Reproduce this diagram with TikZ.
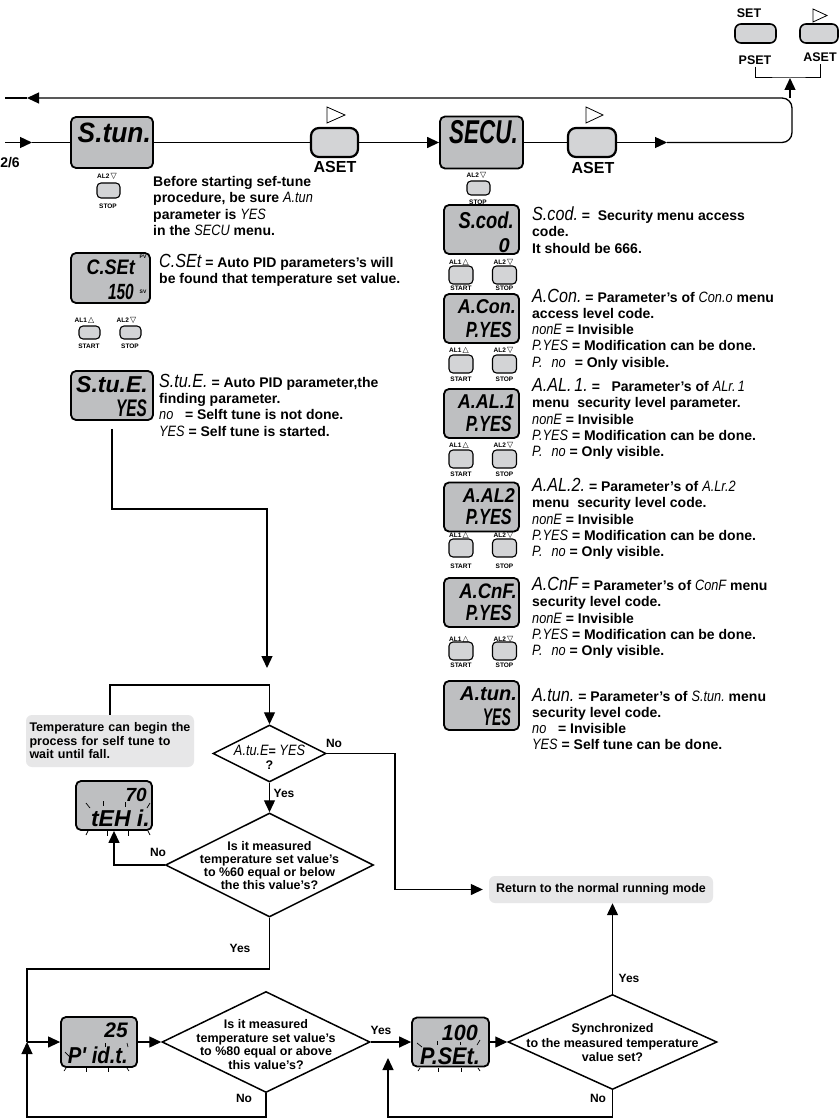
\documentclass[tikz,border=0pt]{standalone}
\usepackage{fontspec}
\usepackage{graphicx}
\setmainfont{Liberation Sans}
\newfontfamily\segfont{Liberation Sans}
\newfontfamily\symfont{DejaVu Sans}
\usetikzlibrary{arrows.meta,shapes.geometric,calc}
\definecolor{lcdgray}{RGB}{190,191,193}
\definecolor{btngray}{RGB}{211,212,214}
\definecolor{notegray}{RGB}{231,231,232}
\newcommand{\dsp}[3]{{\segfont\bfseries\itshape\fontsize{#1}{#1}\selectfont\scalebox{#2}[1]{#3}}}
\newcommand{\sh}[1]{{\segfont\mdseries\itshape\fontsize{19}{16}\selectfont\scalebox{0.85}[1]{#1}}}
\newcommand{\si}[1]{{\segfont\mdseries\itshape\fontsize{15}{16}\selectfont\scalebox{0.85}[1]{#1}}}
\newcommand{\mytriup}{{\symfont\mdseries\fontsize{8}{8}\selectfont\,△}}
\newcommand{\mytridn}{{\symfont\mdseries\fontsize{8}{8}\selectfont\,▽}}
\tikzset{
 conn/.style={line width=1.3pt},
 arr/.style={-{Triangle[length=12pt,width=11pt]}},
 lcd/.style={draw=black, line width=1.8pt, fill=lcdgray, rounded corners=5pt, inner sep=0pt, minimum width=75pt, minimum height=49pt},
 dt/.style={inner sep=0pt, anchor=base east},
 sbtn/.style={draw=black, line width=1.1pt, fill=btngray, rounded corners=4pt, inner sep=0pt, minimum width=23pt, minimum height=15pt},
 rbtn/.style={sbtn, minimum width=24pt, minimum height=18pt},
 cbtn/.style={sbtn, minimum width=21pt, minimum height=13pt},
 bigbtn/.style={draw=black, line width=2.2pt, fill=btngray, rounded corners=8pt, inner sep=0pt, minimum width=47pt, minimum height=29pt},
 topbtn/.style={draw=black, line width=1.6pt, fill=btngray, rounded corners=6pt, inner sep=0pt, minimum height=19pt},
 tinylbl/.style={inner sep=0pt, font=\bfseries\fontsize{6.5}{7}\selectfont},
 pvlbl/.style={inner sep=0pt, font=\bfseries\fontsize{5}{5}\selectfont},
 desc/.style={inner sep=0pt, anchor=west, align=left, font=\bfseries\fontsize{14}{16.3}\selectfont},
 ftxt/.style={inner sep=0pt, align=center, font=\bfseries\fontsize{12.5}{13.6}\selectfont},
 lbl/.style={inner sep=0pt, font=\bfseries\fontsize{12}{13}\selectfont},
 tb/.style={inner sep=0pt, font=\bfseries\fontsize{12.5}{13}\selectfont},
 asetlbl/.style={inner sep=0pt, font=\bfseries\fontsize{16}{16}\selectfont},
 dia/.style={shape=diamond, draw=black, line width=1.5pt, inner sep=0pt},
 notebox/.style={fill=notegray, rounded corners=6pt, inner xsep=7pt, inner ysep=0pt, font=\bfseries\fontsize{12.5}{13.5}\selectfont},
 ray/.style={line width=0.7pt},
 playsym/.style={line width=0.8pt},
}
\newcommand{\btnpair}[6]{%
 \node[tinylbl] (#1la) at (#2-2,#4) {AL1\mytriup};
 \node[tinylbl] (#1lb) at (#3-1,#4) {AL2\mytridn};
 \node[rbtn] (#1a) at (#2,#5) {};
 \node[rbtn] (#1b) at (#3,#5) {};
 \node[tinylbl] (#1sa) at (#2,#6) {START};
 \node[tinylbl] (#1sb) at (#3,#6) {STOP};}
\begin{document}
\begin{tikzpicture}[x=1pt,y=-1pt]
\path[use as bounding box, fill=white] (0,0) rectangle (839,1118);

% ---------- top right keys ----------
\node[tb] (setL) at (749,13) {SET};
\node[topbtn, minimum width=41pt] (bSet) at (755.5,33.5) {};
\node[tb] (psetL) at (755,60) {PSET};
\node[topbtn, minimum width=38pt] (bAset0) at (819,33.5) {};
\node[tb] (asetL0) at (820,57) {ASET};
\draw[playsym] (813,9) -- (827,15.5) -- (813,22) -- cycle;
\coordinate (brk) at (790,78);
\coordinate (loopTop) at (790,98);

% ---------- main row ----------
\node[lcd, minimum width=82pt, minimum height=51pt] (Stun) at (112,142.5) {};
\node[dt] (StunT) at (151,143) {\dsp{28}{0.94}{S.tun.}};
\node[bigbtn] (A1) at (334.5,142.5) {};
\draw[playsym] (327,107) -- (345,115) -- (327,123) -- cycle;
\node[asetlbl] (A1L) at (335,167) {ASET};
\node[lcd, minimum width=83pt, minimum height=52pt] (SECU) at (481.5,142.5) {};
\node[dt] (SECUT) at (518,143.3) {\dsp{33}{0.68}{SECU.}};
\node[bigbtn, minimum width=48pt] (A2) at (592,142.5) {};
\draw[playsym] (586,107) -- (603,115) -- (586,123) -- cycle;
\node[asetlbl] (A2L) at (593,168) {ASET};
\node[inner sep=0pt, font=\bfseries\fontsize{14}{14}\selectfont] (p26) at (10,163) {2/6};
\coordinate (a2tip) at (667,142.5);
\coordinate (leftArrTop) at (27,98);
\coordinate (leftEndTop) at (5,98);
\coordinate (leftEnd) at (5,142.5);
\coordinate (leftArr) at (32,142.5);

% S.tun key and note
\node[tinylbl] (stunAL2) at (107,176) {AL2\mytridn};
\node[sbtn] (stunB) at (108.5,190.5) {};
\node[tinylbl] (stunSTOP) at (108,206) {STOP};
\node[desc] (stunNote) at (153,206) {Before starting sef-tune\\procedure, be sure \si{A.tun}\\parameter is \si{YES}\\in the \si{SECU} menu.};

% SECU key
\node[tinylbl] (secuAL2) at (476.5,175) {AL2\mytridn};
\node[sbtn, minimum height=14pt] (secuB) at (478.5,188) {};
\node[tinylbl] (secuSTOP) at (478,202) {STOP};

% ---------- right column ----------
\node[lcd] (Scod) at (481.5,229.5) {};
\node[dt] (ScodT1) at (514,228.6) {\dsp{23}{0.8}{S.cod.}};
\node[dt] (ScodT2) at (510,252) {\dsp{20}{1}{0}};
\node[desc] (ScodD) at (532,230) {\sh{S.cod.} = \ Security menu access\\code.\\It should be 666.};
\btnpair{r1}{461}{504.5}{262}{275}{288}

\node[lcd] (ACon) at (481.5,318.5) {};
\node[dt] (AConT1) at (516,313.5) {\dsp{20}{0.9}{A.Con.}};
\node[dt] (AConT2) at (512,337) {\dsp{22}{0.74}{P.YES}};
\node[desc] (AConD) at (532,329.5) {\sh{A.Con.} = Parameter’s of \si{Con.o} menu\\access level code.\\\si{nonE} = Invisible\\\si{P.YES} = Modification can be done.\\\si{P.}\hspace{9pt}\si{no}\hspace{9pt}= Only visible.};
\btnpair{r2}{461}{504.5}{350}{364}{379}

\node[lcd] (AAL1) at (481.5,413.5) {};
\node[dt] (AAL1T1) at (515,408.5) {\dsp{20}{0.9}{A.AL.1}};
\node[dt] (AAL1T2) at (512,431) {\dsp{22}{0.74}{P.YES}};
\node[desc] (AAL1D) at (532,419) {\sh{A.AL.\,1.} = \ \ Parameter’s of \si{ALr.\,1}\\menu\ \ security level parameter.\\\si{nonE} = Invisible\\\si{P.YES} = Modification can be done.\\\si{P.}\hspace{9pt}\si{no} = Only visible.};
\btnpair{r3}{461}{504.5}{445}{459}{474}

\node[lcd] (AAL2) at (481.5,507) {};
\node[dt] (AAL2T1) at (515,502) {\dsp{20}{0.9}{A.AL2}};
\node[dt] (AAL2T2) at (512,524.5) {\dsp{22}{0.74}{P.YES}};
\node[desc] (AAL2D) at (532,519) {\sh{A.AL.2.} = Parameter’s of \si{A.Lr.2}\\menu\ \ security level code.\\\si{nonE} = Invisible\\\si{P.YES} = Modification can be done.\\\si{P.}\hspace{9pt}\si{no} = Only visible.};
\btnpair{r4}{461}{504.5}{535}{548}{566}

\node[lcd] (ACnF) at (481.5,602.5) {};
\node[dt] (ACnFT1) at (517,598) {\dsp{21}{0.88}{A.CnF.}};
\node[dt] (ACnFT2) at (512,620.5) {\dsp{22}{0.74}{P.YES}};
\node[desc] (ACnFD) at (532,618) {\sh{A.CnF} = Parameter’s of \si{ConF} menu\\security level code.\\\si{nonE} = Invisible\\\si{P.YES} = Modification can be done.\\\si{P.}\hspace{9pt}\si{no} = Only visible.};
\btnpair{r5}{461}{504.5}{639}{651}{665}

\node[lcd] (Atun) at (481.5,705.5) {};
\node[dt] (AtunT1) at (517,700) {\dsp{20}{1}{A.tun.}};
\node[dt] (AtunT2) at (511,725) {\dsp{24}{0.58}{YES}};
\node[desc] (AtunD) at (532,719) {\sh{A.tun.} = Parameter’s of \si{S.tun.} menu\\security level code.\\\si{no}\ \ \ = Invisible\\\si{YES} = Self tune can be done.};

% ---------- left column ----------
\node[lcd, minimum width=79pt, minimum height=50pt] (CSEt) at (110.5,278) {};
\node[dt] (CSEtT1) at (135,274.5) {\dsp{21}{0.86}{C.SEt}};
\node[dt] (CSEtT2) at (134,299) {\dsp{22}{0.7}{150}};
\node[pvlbl] (pv) at (143,257) {PV};
\node[pvlbl] (sv) at (143,292) {SV};
\node[desc] (CSEtD) at (159,270) {\sh{C.SEt} = Auto PID parameters’s will\\be found that temperature set value.};
\node[tinylbl] (cAL1) at (84.5,320) {AL1\mytriup};
\node[tinylbl] (cAL2) at (126.5,320) {AL2\mytridn};
\node[cbtn] (cB1) at (89.5,332.5) {};
\node[cbtn] (cB2) at (130.5,332.5) {};
\node[tinylbl] (cSTART) at (89,346) {START};
\node[tinylbl] (cSTOP) at (130,346) {STOP};

\node[lcd, minimum width=82pt, minimum height=49pt] (StuE) at (112,395.5) {};
\node[dt] (StuET1) at (148,392.5) {\dsp{23}{1}{S.tu.E.}};
\node[dt] (StuET2) at (147,416.5) {\dsp{24}{0.64}{YES}};
\node[desc] (StuED) at (159,405) {\sh{S.tu.E.} = Auto PID parameter,the\\finding parameter.\\\si{no}\ \ \ = Selft tune is not done.\\\si{YES} = Self tune is started.};

% ---------- flow chart ----------
\coordinate (stuJ1) at (112,509);
\coordinate (stuJ2) at (267,509);
\coordinate (stuTip) at (267,668);

\node[notebox, text width=161pt, inner xsep=3.5pt, align=left, minimum height=52pt] (Tnote) at (110,741) {Temperature can begin the\\process for self tune to\\wait until fall.};
\node[dia, minimum width=113pt, minimum height=57pt] (D1) at (269.5,753.5) {};
\node[ftxt] (D1t) at (269.5,757) {\si{A.tu.E}= \si{YES}\\?};
\coordinate (loopR) at (269.5,685);
\node[lbl] (noD1) at (334,743) {No};
\node[lbl] (yesD1) at (284,793) {Yes};

\node[dia, minimum width=208pt, minimum height=104pt] (D2) at (269.5,865) {};
\node[ftxt, font=\bfseries\fontsize{12.5}{13}\selectfont] (D2t) at (269.5,866) {Is it measured\\temperature set value’s\\to \%60 equal or below\\the this value’s?};
\node[lbl] (noD2) at (158,852) {No};

\node[lcd, minimum width=76pt, minimum height=49pt] (tEH) at (114,805.5) {};
\node[dt] (tEHT1) at (147,801.5) {\dsp{19}{1}{70}};
\node[dt] (tEHT2) at (150,826) {\dsp{23}{1}{tEH i.}};
\draw[ray] (86,803) -- (90,808);
\draw[ray] (103,801) -- (103,806);
\draw[ray] (125,802) -- (125,807);
\draw[ray] (150,803) -- (147,808);
\draw[ray] (88,831) -- (86,835);
\draw[ray] (107,831) -- (107,836);
\draw[ray] (128,831) -- (128,836);
\draw[ray] (148,831) -- (150,835);

\node[lbl] (yesD2) at (240,948) {Yes};
\coordinate (leftTop) at (27,969);
\coordinate (yJ) at (27,1042);

\node[lcd, minimum width=76pt, minimum height=50pt] (Pidt) at (99,1042) {};
\node[dt] (PidtT1) at (128,1037) {\dsp{21}{1}{25}};
\node[dt] (PidtT2) at (128,1063) {\dsp{23}{0.88}{P' id.t.}};
\draw[ray] (65,1052) -- (70,1057);
\draw[ray] (105,1043) -- (105,1047);
\draw[ray] (127,1043) -- (128,1047);
\draw[ray] (66,1068) -- (64,1071);
\draw[ray] (86,1068) -- (86,1072);
\draw[ray] (108,1068) -- (108,1072);
\draw[ray] (127,1068) -- (129,1071);

\node[dia, minimum width=208pt, minimum height=101pt] (D3) at (266,1042) {};
\node[ftxt] (D3t) at (266,1044.5) {Is it measured\\temperature set value’s\\to \%80 equal or above\\this value’s?};
\node[lbl] (yesD3) at (381,1030) {Yes};
\node[lbl] (noD3) at (244,1098) {No};
\coordinate (botL) at (27,1117);

\node[lcd, minimum width=77pt, minimum height=49pt] (PSEt) at (450.5,1042) {};
\node[dt] (PSEtT1) at (478,1040.5) {\dsp{22}{0.98}{100}};
\node[dt] (PSEtT2) at (480,1064.5) {\dsp{24}{0.9}{P.SEt.}};
\draw[ray] (417,1043) -- (422,1047);
\draw[ray] (437,1041) -- (437,1045);
\draw[ray] (460,1042) -- (460,1045);
\draw[ray] (480,1040) -- (477,1045);
\draw[ray] (420,1068) -- (418,1071);
\draw[ray] (438,1068) -- (438,1072);
\draw[ray] (461,1068) -- (461,1072);
\draw[ray] (478,1068) -- (480,1071);

\node[dia, minimum width=209pt, minimum height=95pt] (D4) at (612.5,1042) {};
\node[ftxt, font=\bfseries\fontsize{12.5}{14.5}\selectfont] (D4t) at (612.5,1043) {Synchronized\\to the measured temperature\\value set?};
\node[notebox, minimum width=224pt, minimum height=27pt] (Ret) at (601,889.5) {Return to the normal running mode};
\node[lbl] (yesD4) at (629,978) {Yes};
\node[lbl] (noD4) at (598,1098) {No};
\coordinate (noJ) at (395,889.5);
\coordinate (botR) at (388,1117);
\coordinate (upTip) at (388,1058);

% ---------- connectors ----------
\draw[conn, line width=1pt] ([yshift=-2pt]psetL.south) |- (brk) -| ([yshift=-2pt]asetL0.south);
\draw[conn, arr] (loopTop) -- (brk);
\draw[conn, arr] (leftEnd) -- (leftArr);
\draw[conn] (leftArr) -- (Stun.west);
\draw[conn] (Stun.east) -- (A1.west);
\draw[conn, arr] (A1.east) -- (SECU.west);
\draw[conn] (SECU.east) -- (A2.west);
\draw[conn, arr] (A2.east) -- (a2tip);
\draw[conn, arr, rounded corners=10pt] (a2tip) -- (792,142.5) -- (792,98) -- (leftArrTop);
\draw[conn] (leftArrTop) -- (leftEndTop);

\draw[conn, arr] ([yshift=-8pt]StuE.south) -- (stuJ1) -- (stuJ2) -- (stuTip);
\draw[conn, arr] (Tnote.north) |- (loopR) -- (D1.north);
\draw[conn, arr, shorten >=6pt] (D1.east) -| (noJ) -- (Ret.west);
\draw[conn, arr] (D1.south) -- (D2.north);
\draw[conn, arr] (D2.west) -| (tEH.south);
\draw[conn] (D2.south) |- (leftTop) -- (yJ);
\draw[conn, arr] (yJ) -- (Pidt.west);
\draw[conn, arr] (Pidt.east) -- (D3.west);
\draw[conn, arr] (D3.south) |- (botL) -- (yJ);
\draw[conn, arr] (D3.east) -- (PSEt.west);
\draw[conn, arr] (PSEt.east) -- (D4.west);
\draw[conn, arr] (D4.north) -- (D4.north |- Ret.south);
\draw[conn, arr] (D4.south) |- (botR) -- (upTip);
\end{tikzpicture}
\end{document}
